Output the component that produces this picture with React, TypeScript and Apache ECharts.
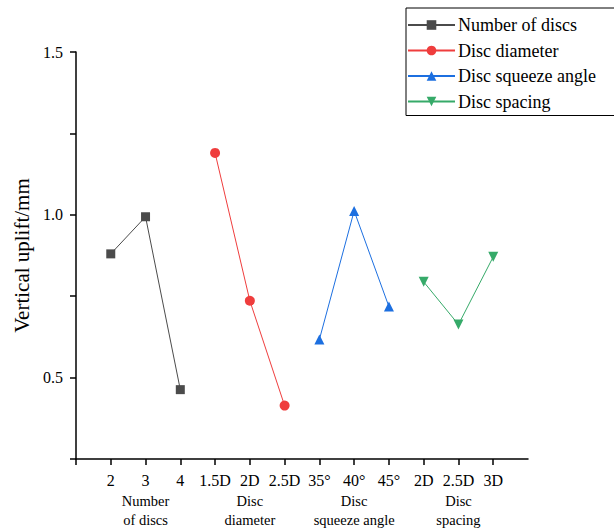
import React, { useEffect, useRef } from "react";
import * as echarts from "echarts";

const tickLabels = ["2", "3", "4", "1.5D", "2D", "2.5D", "35°", "40°", "45°", "2D", "2.5D", "3D"];
const groupNames = ["Number of discs", "Disc diameter", "Disc squeeze angle", "Disc spacing"];
const groupCaptions = ["Number\nof discs", "Disc\ndiameter", "Disc\nsqueeze angle", "Disc\nspacing"];
const groupCaptionAt = [2, 5, 8, 11];
const yTickLabels = [0.5, 1.0, 1.5];
const numberOfDiscs = [0.88, 0.994, 0.463];
const discDiameter = [1.19, 0.736, 0.414];
const squeezeAngle = [0.617, 1.012, 0.718];
const discSpacing = [0.794, 0.663, 0.871];
const colors = ["#4b4b4b", "#ef3d3d", "#1c6fe0", "#36aa69"];
const symbols = ["rect", "circle", "triangle", "triangle"];
const rotations = [0, 0, 0, 180];

const FONT = "Liberation Serif";

export default function App() {
  const ref = useRef<HTMLDivElement>(null);
  useEffect(() => {
    const chart = echarts.init(ref.current!, null, { renderer: "svg" });
    const groups = [numberOfDiscs, discDiameter, squeezeAngle, discSpacing];
    const series = groups.map((vals, g) => ({
      name: groupNames[g],
      type: "line",
      data: vals.map((v, i) => [g * 3 + i + 1, v]),
      symbol: symbols[g],
      symbolRotate: rotations[g],
      symbolSize: g === 0 ? 9 : 10,
      lineStyle: { color: colors[g], width: 1 },
      itemStyle: { color: colors[g] },
      color: colors[g],
    }));
    chart.setOption({
      animation: false,
      textStyle: { fontFamily: FONT },
      grid: { left: 76, right: 86, top: 52, bottom: 71 },
      legend: {
        orient: "vertical",
        left: 406,
        top: 8,
        padding: [8, 30, 5, 1],
        borderColor: "#000",
        borderWidth: 1,
        itemWidth: 47,
        itemHeight: 12,
        itemGap: 7.5,
        textStyle: { fontFamily: FONT, fontSize: 18, color: "#000", padding: [0, 0, 0, -2] },
        data: groupNames,
      },
      xAxis: {
        type: "value",
        min: 0,
        max: 13,
        interval: 1,
        splitLine: { show: false },
        axisLine: { lineStyle: { color: "#000", width: 1.5 } },
        axisTick: { length: 6, lineStyle: { color: "#000", width: 1.5 }, customValues: [0, 1, 2, 3, 4, 5, 6, 7, 8, 9, 10, 11, 12] },
        axisLabel: {
          color: "#000",
          fontFamily: FONT,
          fontSize: 16,
          margin: 11,
          customValues: [1, 2, 3, 4, 5, 6, 7, 8, 9, 10, 11, 12],
          formatter: (v: number) => {
            const t = tickLabels[v - 1] ?? "";
            const gi = groupCaptionAt.indexOf(v);
            if (gi >= 0) {
              const lines = groupCaptions[gi].split("\n").map((l) => `{c|${l}}`).join("\n");
              return `{t|${t}}\n${lines}`;
            }
            return `{t|${t}}`;
          },
          rich: {
            t: { fontFamily: FONT, fontSize: 16, color: "#000", lineHeight: 21 },
            c: { fontFamily: FONT, fontSize: 14.5, color: "#000", lineHeight: 19 },
          },
        },
      },
      yAxis: {
        type: "value",
        min: 0.25,
        max: 1.5,
        interval: 0.25,
        name: "Vertical uplift/mm",
        nameLocation: "middle",
        nameGap: 42,
        nameTextStyle: { fontFamily: FONT, fontSize: 21, color: "#000" },
        splitLine: { show: false },
        axisLine: { show: true, lineStyle: { color: "#000", width: 1.5 } },
        axisTick: { show: true, length: 6, lineStyle: { color: "#000", width: 1.5 } },
        axisLabel: {
          color: "#000",
          fontFamily: FONT,
          fontSize: 16,
          margin: 13,
          formatter: (v: number) =>
            yTickLabels.some((t) => Math.abs(t - v) < 1e-6) ? `{t|${v.toFixed(1)}}` : "",
          rich: {
            t: { fontFamily: FONT, fontSize: 16, color: "#000" },
          },
        },
      },
      series,
    });
    return () => chart.dispose();
  }, []);
  return <div ref={ref} style={{ width: 614, height: 530, position: "absolute", left: 0, top: 0 }} />;
}
